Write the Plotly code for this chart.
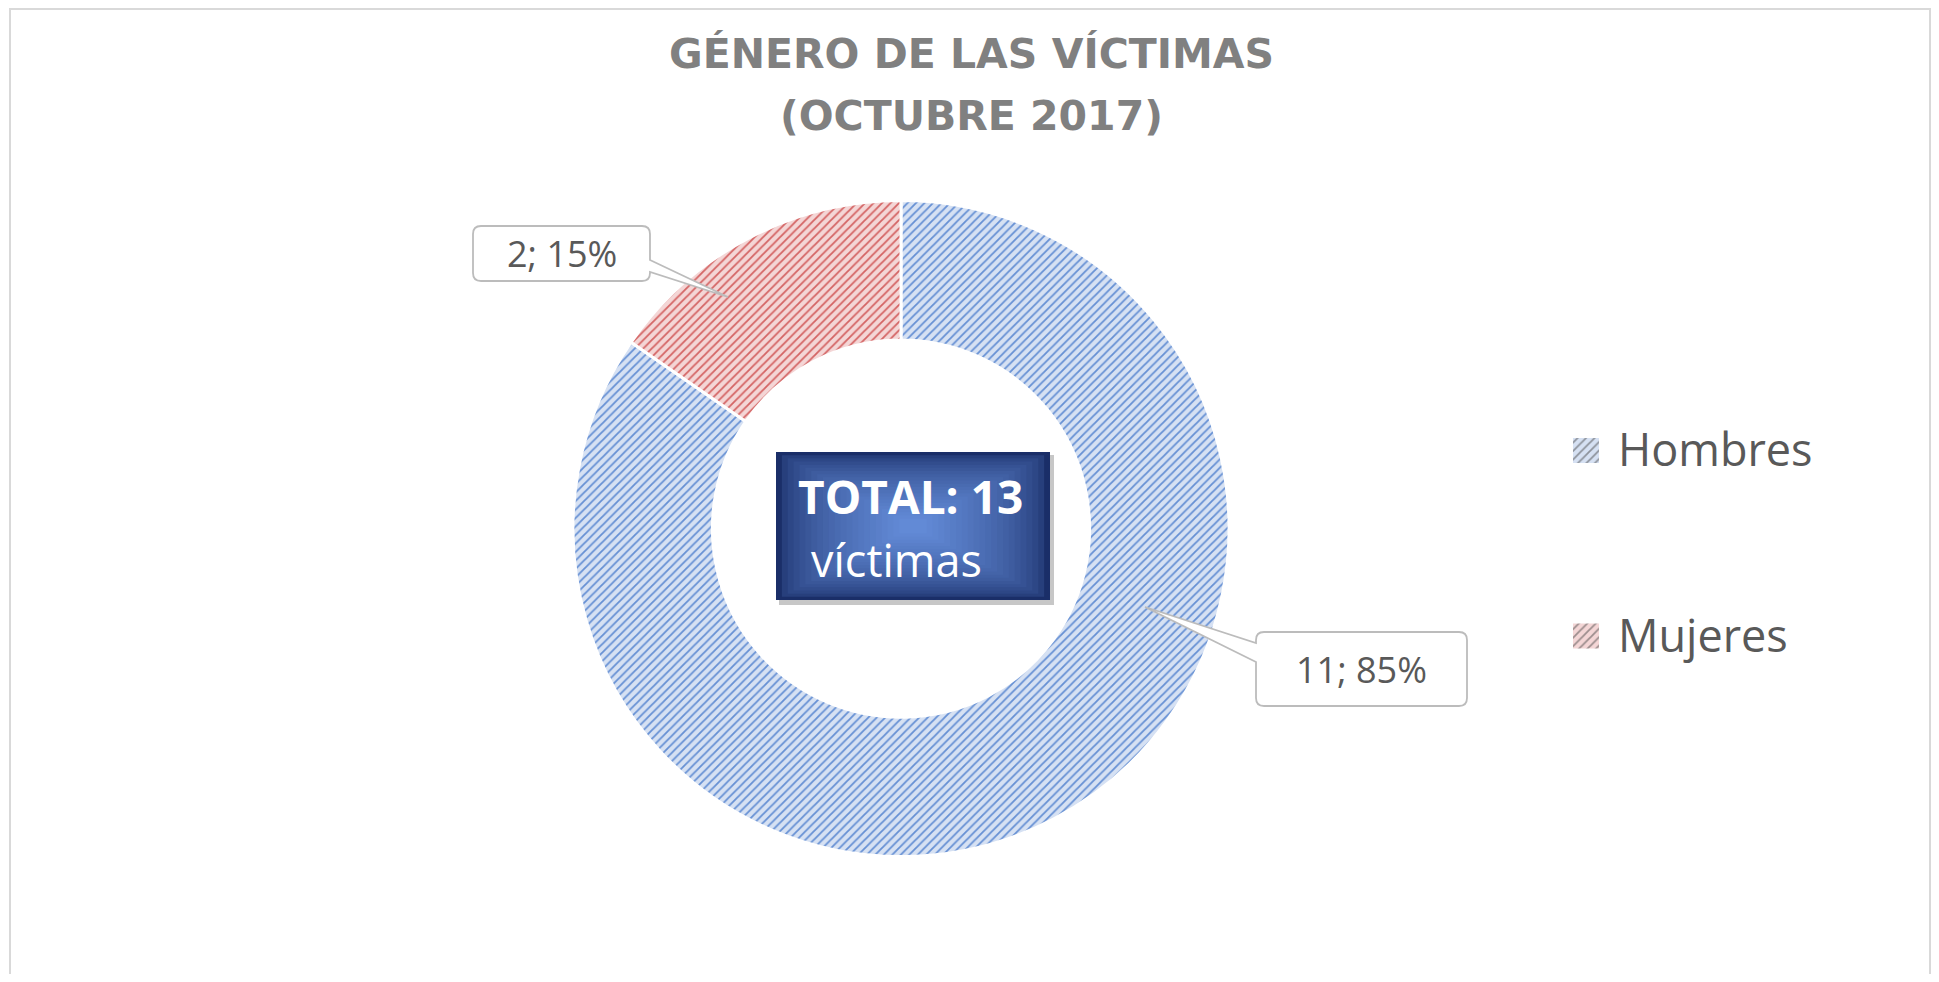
import plotly.graph_objects as go

# ---------------- data ----------------
categories = ["Hombres", "Mujeres"]
values = [11, 2]
title_lines = ["GÉNERO DE LAS VÍCTIMAS", "(OCTUBRE 2017)"]
total_word = "víctimas"

# ---------------- styles ----------------
PAGE_W, PAGE_H = 1939, 982
OFF = 8  # default body margin of the html page
W, H = PAGE_W - 2 * OFF, PAGE_H - 2 * OFF
bg_colors = ["#d6e1f3", "#f4d6d6"]
fg_colors = ["#6690d4", "#d46464"]
text_gray = "#595959"
FONT = "Open Sans"


def px(x):
    return (x - OFF) / W


def py(y):
    return 1 - (y - OFF) / H


def pt(x, y):
    return f"{px(x):.5f},{py(y):.5f}"


total = sum(values)
pcts = [round(v * 100 / total) for v in values]
label_texts = [f"{v}; {p}%" for v, p in zip(values, pcts)]

fig = go.Figure()

# donut
cx, cy, R = 901, 528.6, 328
fig.add_trace(go.Pie(
    labels=categories,
    values=values,
    hole=0.575,
    sort=False,
    direction="clockwise",
    rotation=0,
    textinfo="none",
    showlegend=False,
    marker=dict(
        colors=bg_colors,
        line=dict(color="white", width=3),
        pattern=dict(shape="/", size=6, solidity=0.3,
                     fgcolor=fg_colors, bgcolor=bg_colors, fillmode="replace"),
    ),
    domain=dict(x=[px(cx - R), px(cx + R)], y=[py(cy + R), py(cy - R)]),
))

# legend swatches drawn as tiny bars on a hidden axis
leg_y0, leg_gap, sw = 450.5, 185.5, 25
unit = leg_gap / H
d_top = py(leg_y0) + unit / 2
d_bot = py(leg_y0 + leg_gap) - unit / 2
fig.add_trace(go.Bar(
    y=categories, x=[1] * len(categories), orientation="h",
    marker=dict(color=bg_colors, line=dict(width=0),
                pattern=dict(shape="/", size=6, solidity=0.3,
                             fgcolor=fg_colors, bgcolor=bg_colors)),
    showlegend=False, hoverinfo="skip", width=sw / leg_gap,
))
fig.update_xaxes(visible=False, range=[0, 1], domain=[px(1573), px(1599)], fixedrange=True)
fig.update_yaxes(visible=False, range=[len(categories) - 0.5, -0.5],
                 domain=[d_bot, d_top], fixedrange=True)

shapes = []
annotations = []

# outer chart border
shapes.append(dict(type="rect", xref="paper", yref="paper",
                   x0=px(10), x1=px(1930), y0=py(1010), y1=py(9),
                   line=dict(color="#d9d9d9", width=2), fillcolor="rgba(0,0,0,0)",
                   layer="below"))

# title (two lines)
for i, line in enumerate(title_lines):
    annotations.append(dict(x=px(971), y=py(54 + i * 62), xref="paper", yref="paper",
                            text=line, showarrow=False, xanchor="center", yanchor="middle",
                            font=dict(family="DejaVu Sans", size=41, color="#808080", weight=700)))

# legend text
for i, c in enumerate(categories):
    annotations.append(dict(x=px(1616), y=py(leg_y0 + i * leg_gap - 2), xref="paper", yref="paper",
                            text=c, showarrow=False, xanchor="left", yanchor="middle",
                            font=dict(family=FONT, size=45, color=text_gray)))


# callouts
def rounded_callout(x0, y0, x1, y1, side, wy0, wy1, tip, r=8):
    tx, ty = tip
    p = [f"M{pt(x0 + r, y0)}", f"L{pt(x1 - r, y0)}", f"Q{pt(x1, y0)} {pt(x1, y0 + r)}"]
    if side == "right":
        p += [f"L{pt(x1, wy0)}", f"L{pt(tx, ty)}", f"L{pt(x1, wy1)}"]
    p += [f"L{pt(x1, y1 - r)}", f"Q{pt(x1, y1)} {pt(x1 - r, y1)}",
          f"L{pt(x0 + r, y1)}", f"Q{pt(x0, y1)} {pt(x0, y1 - r)}"]
    if side == "left":
        p += [f"L{pt(x0, wy1)}", f"L{pt(tx, ty)}", f"L{pt(x0, wy0)}"]
    p += [f"L{pt(x0, y0 + r)}", f"Q{pt(x0, y0)} {pt(x0 + r, y0)}", "Z"]
    return dict(type="path", xref="paper", yref="paper", path=" ".join(p),
                fillcolor="white", line=dict(color="#bcbcbc", width=1.8), layer="above")


callouts = [
    # Hombres
    dict(box=(1256, 632, 1467, 706), side="left", wedge=(643, 662), tip=(1145, 607)),
    # Mujeres
    dict(box=(473, 226, 650, 281), side="right", wedge=(260, 272), tip=(728, 297)),
]
for c, txt in zip(callouts, label_texts):
    x0, y0, x1, y1 = c["box"]
    shapes.append(rounded_callout(x0, y0, x1, y1, c["side"], c["wedge"][0], c["wedge"][1], c["tip"]))
    annotations.append(dict(x=px((x0 + x1) / 2), y=py((y0 + y1) / 2), xref="paper", yref="paper",
                            text=txt, showarrow=False, xanchor="center", yanchor="middle",
                            font=dict(family=FONT, size=36, color=text_gray)))

# central total box with gradient (concentric rectangles) and shadow
bx0, by0, bx1, by1 = 776, 452, 1050, 600
shapes.append(dict(type="rect", xref="paper", yref="paper",
                   x0=px(bx0 + 3), x1=px(bx1 + 4), y0=py(by1 + 5), y1=py(by0 + 3),
                   line=dict(width=0), fillcolor="rgba(0,0,0,0.22)", layer="above"))
n = 22
c_out = (26, 46, 104)
c_in = (98, 138, 214)
for i in range(n):
    t = i / (n - 1)
    tc = t ** 0.55
    col = tuple(int(c_out[k] + (c_in[k] - c_out[k]) * tc) for k in range(3))
    ix = t * (bx1 - bx0) / 2 * 0.9
    iy = t * (by1 - by0) / 2 * 0.9
    shapes.append(dict(type="rect", xref="paper", yref="paper",
                       x0=px(bx0 + ix), x1=px(bx1 - ix), y0=py(by1 - iy), y1=py(by0 + iy),
                       line=dict(width=0), fillcolor=f"rgb{col}", layer="above"))

annotations.append(dict(x=px(910), y=py(496), xref="paper", yref="paper",
                        text=f"<b>TOTAL: {total}</b>", showarrow=False,
                        xanchor="center", yanchor="middle",
                        font=dict(family=FONT, size=46, color="white")))
annotations.append(dict(x=px(896), y=py(559), xref="paper", yref="paper",
                        text=total_word, showarrow=False,
                        xanchor="center", yanchor="middle",
                        font=dict(family=FONT, size=45, color="white")))

fig.update_layout(
    width=W, height=H,
    margin=dict(l=0, r=0, t=0, b=0),
    paper_bgcolor="white", plot_bgcolor="rgba(0,0,0,0)",
    shapes=shapes,
    annotations=annotations,
    showlegend=False,
)

fig.write_html("out.html")
